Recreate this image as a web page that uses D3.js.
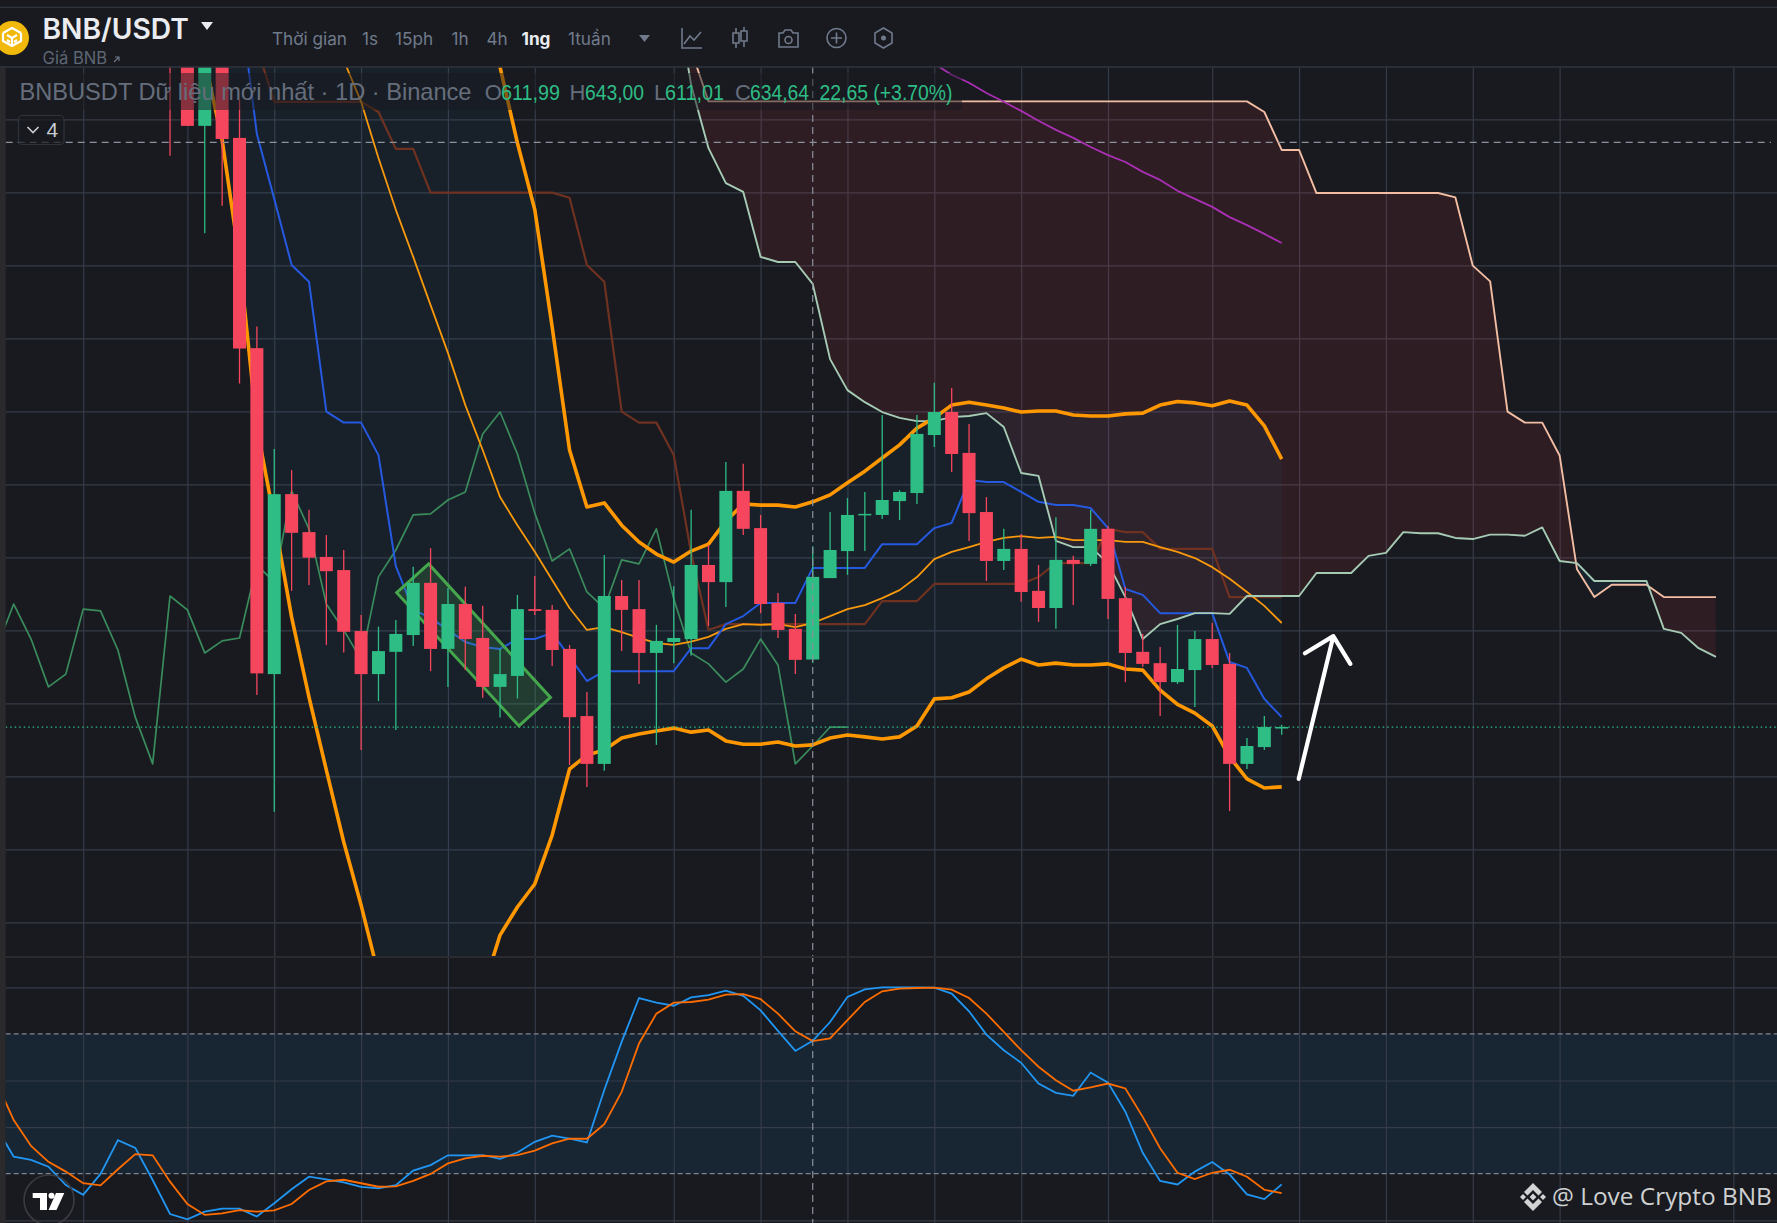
<!DOCTYPE html>
<html>
<head>
<meta charset="utf-8">
<title>BNB/USDT</title>
<script src="https://cdn.jsdelivr.net/npm/d3@7"></script>
<style>
  html, body { margin: 0; padding: 0; background: #181a20; overflow: hidden; }
  text { font-family: "Liberation Sans", Arial, sans-serif; }
</style>
</head>
<body>
<div id="viz"></div>
<script>
// candles, the first one is bar -1
var firstBar = -1;
var opens = [800,790,758.2,785,754.9,697.3,608,657.3,646.9,640.1,636.5,619.8,608,614.1,618.7,633,614.9,627.2,617.9,604.5,607.5,625.8,625.6,614.9,596.5,583.4,629.4,625.8,613.8,616.8,617.6,637.9,633.2,658.2,648,627.5,620.4,611.99,634.3,641.7,651.6,651.6,655.4,657.6,673.5,679.8,668.6,652.4,639,642.3,630.8,626.1,639.3,638.2,647.8,628.8,614.1,611,605.8,609.1,617.6,610.8,583.4,588,593.2];
var highs = [810,800,795,790,765.3,703.2,669.7,663.9,653,646.1,642,624.2,621,622.8,637.4,642.5,631.6,631.9,626.7,614.9,629.7,634.9,626.9,616,603.1,640.6,633.8,633.8,621.5,632.1,653,643.4,666.1,665.6,651.6,630.2,624.5,643,652.4,656.2,657.9,679,658.4,679,687.8,686.4,676.5,656.5,647.8,646.4,637.9,651,640.4,653,648.6,631.9,619,615.4,621.5,619.8,622,613.8,590.5,596.5,594.1];
var lows = [750,758.2,728.8,736.3,687.6,602.3,570.3,630.8,632.4,616,613.9,587.2,600.6,592.7,615.7,608.8,604.5,609.1,601.5,596.1,601.3,624.2,610.2,583.1,577.1,581.5,614.3,605.3,588.6,611,613,621.2,626.4,646.1,624.7,617.9,608,611.01,634.3,635.2,641.7,650.5,650.2,654.6,670.2,663.4,644.5,633.5,636.5,627.8,622.3,620.4,626.9,637.6,623.1,605.8,610,596.5,605.3,599,609.7,570.5,582,587.2,591.4];
var closes = [785,758.2,790,754.6,697.2,608.2,657.3,646.7,639.9,636.2,619.6,608,614.3,619,633,614.9,627.2,617.6,604.5,608,625.8,625.3,614.6,596.2,583.4,629.4,625.6,613.8,617.1,617.9,637.9,633.2,658.2,647.8,627.2,620.1,611.9,634.64,642,651.6,651.9,655.7,657.9,673.8,679.8,668.3,652.1,639,642.3,630.5,626.1,639.3,638.2,647.8,628.6,613.8,610.8,605.8,609.4,617.6,610.5,583.4,588.3,593.5,593.5];

// ichimoku lines
var tenkanStart = 3;
var tenkan = [793.2,756,738.2,720.1,715.5,679.9,676.9,676.9,668,637.6,625.6,623.4,620.1,616.8,615.4,614.9,617.6,617.6,619.3,612.7,606.1,608.8,608.8,608.8,608.8,608.8,615.1,615.1,621.7,623.9,627.5,627.5,627.5,637.1,637.1,637.1,637.1,643.6,643.6,643.6,648,649.4,661.2,660.6,660.6,657.9,655.2,654.3,654.3,653.5,648,631.3,629.7,624.7,624.7,624.7,624.7,611.3,609.7,601.2,596.2];
var kijunStart = 4;
var kijun = [779.8,764.8,764.8,764.8,764.8,764.8,764.8,762,751.9,751.9,739.9,739.9,739.9,739.9,739.9,739.9,739.9,739.9,738.5,720.1,715.5,679.9,676.9,676.9,668,641.2,620.1,621.7,621.7,621.7,621.7,621.7,621.7,621.7,621.7,621.7,628,628,628,632.7,632.7,632.7,632.7,632.7,632.7,634.6,638.4,638.4,638.4,647.8,646.9,646.9,642.3,642.3,642.3,642.3,629.1,629.1,629.1,629.1];
var chikouStart = -11;
var chikou = [614.9,627.2,617.6,604.5,608,625.8,625.3,614.6,596.2,583.4,629.4,625.6,613.8,617.1,617.9,637.9,633.2,658.2,647.8,627.2,620.1,611.9,634.64,642,651.6,651.9,655.7,657.9,673.8,679.8,668.3,652.1,639,642.3,630.5,626.1,639.3,638.2,647.8,628.6,613.8,610.8,605.8,609.4,617.6,610.5,583.4,588.3,593.5,593.5];
var spanStart = 28;
var spanA = [798.2,769.4,752.1,742.5,740.1,722.3,720.9,720.9,714.9,694.3,685.8,682.5,679.8,678.2,677.3,677.3,678.4,678.7,679.5,675.7,663.1,662.3,644.5,642.8,642.8,638.4,629.1,617.6,621.7,623.1,624.7,624.7,624.5,629.4,629.4,629.4,629.4,635.7,635.7,635.7,640.4,641.2,646.9,646.6,646.6,645.3,645,646.2,646.2,645.9,648.2,639,638.4,633.5,633.5,633.5,633.5,620.4,619.3,615.1,612.7];
var spanB = [820.1,779,764.9,764.9,764.9,764.9,764.9,764.9,764.9,764.9,764.9,764.9,764.9,764.9,764.9,764.9,764.9,764.9,764.9,764.9,764.9,764.9,764.9,764.9,764.9,764.9,764.9,764.9,764.9,764.9,764.9,764.9,764.9,764.9,762,751.6,751.6,739.8,739.8,739.8,739.8,739.8,739.8,739.8,739.8,738.6,719.9,715.6,679.9,676.9,676.9,667.9,636.7,629.1,632.5,632.5,632.5,629.1,629.1,629.1,629.1];

// bollinger bands, bar 0 to 63
var bandUpper = [900,900,900,900,900,900,900,900,900,900,900,900,900,900,900,880,850,810,774.3,753.5,735.2,703.1,669.4,653.8,654.9,648.8,644.2,640.9,638.7,641.7,643.6,649.9,654.6,654.3,654.3,653.8,655.2,657.1,660.4,663.6,667.2,670.8,675.4,678.2,681.7,682.5,681.7,680.9,679.8,680.1,680.1,679,678.7,678.7,679.3,679.5,681.7,682.7,682.3,681.5,682.8,681.7,676,666.9];
var bandLower = [803.6,776.2,754.3,721.5,675.7,650.5,623.6,601.7,581.7,562,544.7,525.6,507.7,494,485.8,485.8,494,521.4,536.5,544.2,550.5,563.9,582,585.8,587.2,590.5,591.6,592.4,593.2,592.1,592.7,589.7,588.8,588.8,589.4,588.3,588.6,590.5,591.3,590.8,590.2,590.8,593.8,601.2,601.5,603.1,606.7,609.7,612.1,610.5,611,610.5,610.5,610.8,609.4,609.1,603.6,599.7,597.3,593.8,585.3,579.3,576.8,577.1];
var bandMidStart = 8;
var bandMid = [790,776.2,764.8,749.4,735.2,722.3,709.1,696,681.7,669.4,656.5,648.8,641.5,633.8,626.1,620.1,620.9,619.5,617.9,616.5,616,616.9,618.2,620.4,621.7,621.5,621.7,620.9,622,623.9,625.8,626.9,628.8,631,634.6,639.5,641.5,642.8,644.2,645.3,645.8,645.3,645.6,644.7,644.7,644.7,644.2,644.2,642.8,641.5,639.8,637.3,634.1,630.5,626.7,622];

// long moving average
var longMaStart = 42;
var longMa = [777.6,775.2,772.2,770,767.2,764.8,762.3,759.6,757.1,754.9,752.4,750.2,748.3,745.6,743.4,740.4,738.2,736,733.2,731,728.6,726.1];

// stochastic RSI, starts at bar -11
var stochStart = -11;
var stochK = [40,27.3,25.9,23,15.1,10.9,19.9,34.4,31.1,17.3,2.7,0.4,3.7,5,5,1.6,7.3,13.3,18.7,17.6,16.3,14.3,13.7,15.1,21.3,23.7,27.9,27.9,28,26.4,29.1,33.7,36.3,35.1,33.4,55.9,76.6,95.4,93.4,92.1,95.7,96.6,98.6,96.3,90.1,81.3,72.7,77,85.1,95.9,99.1,100,100,100,99.9,97.3,89.7,79.7,73,67.6,58.7,54.7,53.4,63.4,59.1,46.6,29,16.9,15.4,20.9,25,19.7,11.1,9.1,15.4];
var stochD = [59.4,43,31.9,25.1,20.9,15.9,15,21.9,28.4,27.9,16.6,7,2.3,3,4.4,3.7,4.3,7,13,16.7,17.4,15.9,14.4,14.6,16.9,19.9,24.4,26.6,27.7,27.3,28,29.9,33,35,35,41.3,55.1,75.9,88.7,93.4,93.7,94.7,96.9,97.1,94.9,88.7,81.1,76.9,78.1,85.9,93.7,98.3,99.4,99.7,99.9,99,95.4,88.7,80.9,73,65.9,60.1,55.6,57,58.7,56.6,44.4,30.9,20.4,17.7,20.4,21.7,18.7,13.1,11.7];

// axis ticks
var barTicks = [-6,0,5,10,15,20,28,33,38,43,48,53,59,64,69,74,79,89];
var priceTicks = [760,740,720,700,680,660,640,620,600,580,560,540];
var stochTicks = [100,60,40,0];
var stochGuides = [80,20];
var crossBar = 36;
var crossPrice = 753.7;
var lastPrice = 593.5;

// drawings on the chart
var boxBars = [12.05,13.89,20.9,19.09];
var boxPrices = [630.3,638.2,601.6,593.8];
var arrowBars = [63.98,65.97,64.34,66.95];
var arrowPrices = [579.3,618.4,613.7,610.8];

// header
var menuLabels = ['Thời gian','1s','15ph','1h','4h','1ng','1tuần'];
var menuX = [272,362,395,451.5,486.5,521.5,568];

var width = 1777, height = 1223;
var plotLeft = 5.7, plotTop = 67, plotBottom = 957, stochTop = 958;

var xScale = d3.scaleLinear().domain([0,10]).range([187.4,361.1]);
var yPrice = d3.scaleLinear().domain([640,620]).range([557.3,630.3]);
var yStoch = d3.scaleLinear().domain([0,100]).range([1220.3,987.3]);

var svg = d3.select('#viz').append('svg')
    .attr('width', width)
    .attr('height', height)
    .style('display','block');

var defs = svg.append('defs');
defs.append('clipPath').attr('id','plotClip').append('rect')
    .attr('x',plotLeft).attr('y',plotTop)
    .attr('width',width-plotLeft).attr('height',plotBottom-plotTop);
defs.append('clipPath').attr('id','stochClip').append('rect')
    .attr('x',plotLeft).attr('y',stochTop)
    .attr('width',width-plotLeft).attr('height',height-stochTop);

svg.append('rect').attr('width',width).attr('height',height).attr('fill','#181a20');
svg.append('rect').attr('x',0).attr('y',plotTop).attr('width',plotLeft).attr('height',height-plotTop).attr('fill','#2a2a2c');

var gridColor = '#353b47';

// helpers
function series(start, values) {
  return values.map(function(v, i) { return {bar: start + i, value: v}; });
}
var priceLine = d3.line()
    .x(function(d) { return xScale(d.bar); })
    .y(function(d) { return yPrice(d.value); });
var stochLine = d3.line()
    .x(function(d) { return xScale(d.bar); })
    .y(function(d) { return yStoch(d.value); });

function styleGrid(g) {
  g.select('.domain').remove();
  g.selectAll('text').remove();
  g.selectAll('line').attr('stroke',gridColor).attr('stroke-width',1.2);
}

// price pane
var plot = svg.append('g').attr('clip-path','url(#plotClip)');

plot.append('g')
    .attr('transform','translate(0,'+plotBottom+')')
    .call(d3.axisBottom(xScale).tickValues(barTicks).tickSize(-(plotBottom-plotTop)).tickFormat(''))
    .call(styleGrid);
plot.append('g')
    .attr('transform','translate('+width+',0)')
    .call(d3.axisLeft(yPrice).tickValues(priceTicks).tickSize(width).tickFormat(''))
    .call(styleGrid);

// cloud
var spanRows = spanA.map(function(a, i) { return {bar: spanStart + i, a: a, b: spanB[i]}; });
var belowA = d3.area()
    .x(function(d) { return xScale(d.bar); })
    .y0(function(d) { return yPrice(d.a); })
    .y1(height);
var belowB = d3.area()
    .x(function(d) { return xScale(d.bar); })
    .y0(function(d) { return yPrice(d.b); })
    .y1(height);
var cloudArea = d3.area()
    .x(function(d) { return xScale(d.bar); })
    .y0(function(d) { return yPrice(d.a); })
    .y1(function(d) { return yPrice(d.b); });
defs.append('clipPath').attr('id','belowA').append('path').attr('d',belowA(spanRows));
defs.append('clipPath').attr('id','belowB').append('path').attr('d',belowB(spanRows));
plot.append('path').attr('d',cloudArea(spanRows)).attr('fill','rgba(242,54,69,0.10)').attr('clip-path','url(#belowB)');
plot.append('path').attr('d',cloudArea(spanRows)).attr('fill','rgba(33,150,243,0.07)').attr('clip-path','url(#belowA)');

// band fill
var bandRows = bandUpper.map(function(u, i) { return {bar: i, up: u, low: bandLower[i]}; });
plot.append('path')
    .attr('d',d3.area()
      .x(function(d) { return xScale(d.bar); })
      .y0(function(d) { return yPrice(d.up); })
      .y1(function(d) { return yPrice(d.low); })(bandRows))
    .attr('fill','rgba(33,150,243,0.05)');

// indicator lines
function addLine(start, values, color, w) {
  plot.append('path')
      .attr('d',priceLine(series(start, values)))
      .attr('fill','none')
      .attr('stroke',color)
      .attr('stroke-width',w)
      .attr('stroke-linejoin','round');
}
addLine(kijunStart, kijun, '#6f3120', 2.2);
addLine(chikouStart, chikou, '#3a8c5c', 1.7);
addLine(bandMidStart, bandMid, '#f7980d', 1.8);
addLine(tenkanStart, tenkan, '#2559e0', 2);
addLine(spanStart, spanB, '#f2bda2', 1.9);
addLine(spanStart, spanA, '#a6cbb5', 1.9);
addLine(longMaStart, longMa, '#a92fb4', 1.8);
addLine(0, bandUpper, '#ff9800', 3.6);
addLine(0, bandLower, '#ff9800', 3.6);

// horizontal guides
plot.append('line')
    .attr('x1',plotLeft).attr('x2',1771)
    .attr('y1',yPrice(crossPrice)).attr('y2',yPrice(crossPrice))
    .attr('stroke','#8b929e').attr('stroke-width',1.2).attr('stroke-dasharray','7 5');
plot.append('line')
    .attr('x1',plotLeft).attr('x2',width)
    .attr('y1',yPrice(lastPrice)).attr('y2',yPrice(lastPrice))
    .attr('stroke','#2ebd85').attr('stroke-width',1.2).attr('stroke-dasharray','1.5 3');

// green box under the candles
var boxPoints = boxBars.map(function(b, i) { return [xScale(b), yPrice(boxPrices[i])]; });
plot.append('polygon')
    .attr('points',boxPoints.join(' '))
    .attr('fill','rgba(76,175,80,0.2)')
    .attr('stroke','#46a64c')
    .attr('stroke-width',3);

// candles
var bars = opens.map(function(o, i) {
  return {bar: firstBar + i, open: o, high: highs[i], low: lows[i], close: closes[i]};
});
var candleG = plot.selectAll('g.candle').data(bars).enter().append('g').attr('class','candle');
function candleColor(d) { return d.close >= d.open ? '#2ebd85' : '#f6465d'; }
candleG.append('line')
    .attr('x1',function(d) { return xScale(d.bar); })
    .attr('x2',function(d) { return xScale(d.bar); })
    .attr('y1',function(d) { return yPrice(d.high); })
    .attr('y2',function(d) { return yPrice(d.low); })
    .attr('stroke',candleColor)
    .attr('stroke-width',1.3);
candleG.append('rect')
    .attr('x',function(d) { return xScale(d.bar) - 6.5; })
    .attr('width',13)
    .attr('y',function(d) { return Math.min(yPrice(d.open), yPrice(d.close)); })
    .attr('height',function(d) { return Math.max(1.5, Math.abs(yPrice(d.open) - yPrice(d.close))); })
    .attr('fill',candleColor);

// white arrow
var arrowPt = arrowBars.map(function(b, i) { return [xScale(b), yPrice(arrowPrices[i])]; });
plot.append('path')
    .attr('d',d3.line()([arrowPt[0],arrowPt[1]]) + d3.line()([arrowPt[2],arrowPt[1],arrowPt[3]]))
    .attr('fill','none')
    .attr('stroke','#fff')
    .attr('stroke-width',4.2)
    .attr('stroke-linecap','round')
    .attr('stroke-linejoin','round');

// stoch pane
var lower = svg.append('g').attr('clip-path','url(#stochClip)');
lower.append('rect')
    .attr('x',plotLeft).attr('width',width-plotLeft)
    .attr('y',yStoch(80)).attr('height',yStoch(20)-yStoch(80))
    .attr('fill','rgba(33,150,243,0.09)');
lower.append('g')
    .attr('transform','translate(0,'+height+')')
    .call(d3.axisBottom(xScale).tickValues(barTicks).tickSize(-(height-stochTop)).tickFormat(''))
    .call(styleGrid);
lower.append('g')
    .attr('transform','translate('+width+',0)')
    .call(d3.axisLeft(yStoch).tickValues(stochTicks).tickSize(width).tickFormat(''))
    .call(styleGrid);
lower.selectAll('line.guide').data(stochGuides).enter().append('line')
    .attr('class','guide')
    .attr('x1',plotLeft).attr('x2',width)
    .attr('y1',function(d) { return yStoch(d); })
    .attr('y2',function(d) { return yStoch(d); })
    .attr('stroke','#7d8592').attr('stroke-width',1.2).attr('stroke-dasharray','5 3');
lower.append('path')
    .attr('d',stochLine(series(stochStart, stochK)))
    .attr('fill','none').attr('stroke','#2196f3').attr('stroke-width',1.8);
lower.append('path')
    .attr('d',stochLine(series(stochStart, stochD)))
    .attr('fill','none').attr('stroke','#ff6d00').attr('stroke-width',1.8);

// crosshair and pane separators
svg.append('line')
    .attr('x1',xScale(crossBar)).attr('x2',xScale(crossBar))
    .attr('y1',plotTop).attr('y2',height)
    .attr('stroke','#8b929e').attr('stroke-width',1.2).attr('stroke-dasharray','7 5');
svg.append('line').attr('x1',plotLeft).attr('x2',width).attr('y1',957).attr('y2',957).attr('stroke','#2a2b2e').attr('stroke-width',2);

// header
var head = svg.append('g');
head.append('rect').attr('width',width).attr('height',plotTop).attr('fill','#181a20');
head.append('line').attr('x1',0).attr('x2',width).attr('y1',7.3).attr('y2',7.3).attr('stroke','#2f343c').attr('stroke-width',1.2);
head.append('line').attr('x1',0).attr('x2',width).attr('y1',67).attr('y2',67).attr('stroke','#2f343c').attr('stroke-width',1.4);

head.append('circle').attr('cx',12).attr('cy',38).attr('r',17).attr('fill','#f0b90b');
head.append('path')
    .attr('d','M3 33 L12 28 L21 33 M3 33 L3 41 L12 46 L21 41 L21 33 M7 35 L12 38 L17 35 M12 38 L12 46 M7 40 L10 42 M17 40 L14 42')
    .attr('fill','none').attr('stroke','#fff').attr('stroke-width',2.2).attr('stroke-linejoin','round');

head.append('text').attr('x',42.5).attr('y',39.3)
    .style('font-family','Inter').style('font-weight',600).style('font-size','28.2px')
    .attr('fill','#eaecef').text('BNB/USDT');
head.append('path').attr('d','M201 22 L213 22 L207 30 Z').attr('fill','#eaecef');
head.append('text').attr('x',42.5).attr('y',63.5)
    .style('font-family','Inter').style('font-size','16.6px')
    .attr('fill','#5e6673').text('Giá BNB');
head.append('path').attr('d','M114 62 L119 57 M115 57 L119 57 L119 61').attr('fill','none').attr('stroke','#707a8a').attr('stroke-width',1.1);

head.selectAll('text.menu').data(menuLabels).enter().append('text')
    .attr('class','menu')
    .attr('x',function(d, i) { return menuX[i]; })
    .attr('y',44.5)
    .style('font-family','Inter')
    .style('font-size','17.2px')
    .style('font-weight',function(d) { return d === '1ng' ? 700 : 400; })
    .attr('fill',function(d) { return d === '1ng' ? '#eaecef' : '#707a8a'; })
    .text(function(d) { return d; });
head.append('path').attr('d','M639 35 L650 35 L644.5 42 Z').attr('fill','#707a8a');

// toolbar icons
var iconStroke = '#707a8a';
function icon(d) {
  head.append('path').attr('d',d).attr('fill','none').attr('stroke',iconStroke).attr('stroke-width',1.6);
}
icon('M682 28 L682 48 L702 48 M684 44 L690 36 L694 40 L701 32');
icon('M733 33 H739 V43 H733 Z M741 31 H747 V41 H741 Z M736 28 V33 M736 43 V48 M744 27 V31 M744 41 V47');
icon('M779 33 H783 L785 30 H791 L793 33 H798 V47 H779 Z');
head.append('circle').attr('cx',788.5).attr('cy',40).attr('r',3.5).attr('fill','none').attr('stroke',iconStroke).attr('stroke-width',1.6);
head.append('circle').attr('cx',836.5).attr('cy',38).attr('r',9.5).attr('fill','none').attr('stroke',iconStroke).attr('stroke-width',1.6);
icon('M831 38 H842 M836.5 32.5 V43.5');
icon('M883.5 28 L892 33 L892 43 L883.5 48 L875 43 L875 33 Z');
head.append('circle').attr('cx',883.5).attr('cy',38).attr('r',2.5).attr('fill',iconStroke);

// legend strip
svg.append('rect').attr('x',19).attr('y',73).attr('width',943).attr('height',37).attr('fill','rgba(24,26,32,0.5)');
var legendGrey = '#666e7c', legendGreen = '#2ebd85';
function legendText(x, label, color, size, fit) {
  var t = svg.append('text').attr('x',x).attr('y',99.6).attr('fill',color).style('font-size',size+'px').text(label);
  if (fit) t.attr('textLength',fit).attr('lengthAdjust','spacingAndGlyphs');
}
legendText(19.5,'BNBUSDT Dữ liệu mới nhất · 1D · Binance',legendGrey,23.6,452);
legendText(484.7,'O',legendGrey,22);
legendText(501,'611,99',legendGreen,22,59);
legendText(569.5,'H',legendGrey,22);
legendText(585,'643,00',legendGreen,22,59);
legendText(654,'L',legendGrey,22);
legendText(665,'611,01',legendGreen,22,59);
legendText(735,'C',legendGrey,22);
legendText(750,'634,64',legendGreen,22,59);
legendText(819.5,'22,65 (+3.70%)',legendGreen,22,133);

// collapsed indicator box
svg.append('rect').attr('x',18.5).attr('y',115.5).attr('width',45.5).attr('height',29).attr('rx',4)
    .attr('fill','#181a20').attr('fill-opacity',0.7).attr('stroke','#2f343c').attr('stroke-width',1.2);
svg.append('path').attr('d','M27.5 127 L33 132.5 L38.5 127').attr('fill','none').attr('stroke','#c8ccd2').attr('stroke-width',1.6);
svg.append('text').attr('x',46.5).attr('y',137).attr('fill','#c8ccd2').style('font-size','21px').text('4');

// tradingview badge
svg.append('circle').attr('cx',49).attr('cy',1200).attr('r',25).attr('fill','none').attr('stroke','#3b3b41').attr('stroke-width',1.6);
svg.append('path').attr('d','M32.7 1193 H47 V1210 H40 V1198 H32.7 Z M56 1193 H64.3 L56.5 1210 H48.5 Z').attr('fill','#fff');
svg.append('circle').attr('cx',51.5).attr('cy',1195.8).attr('r',3).attr('fill','#fff');

// watermark
var mark = svg.append('g').attr('transform','translate(1533,1197)').attr('fill','#d2d4d4');
mark.append('path').attr('d','M0 -14 L9 -5 L5.5 -1.5 L0 -7 L-5.5 -1.5 L-9 -5 Z');
mark.append('path').attr('d','M0 14 L9 5 L5.5 1.5 L0 7 L-5.5 1.5 L-9 5 Z');
mark.append('path').attr('d','M0 -3.4 L3.4 0 L0 3.4 L-3.4 0 Z');
mark.append('path').attr('d','M-10 -3 L-7 0 L-10 3 L-13 0 Z');
mark.append('path').attr('d','M10 -3 L13 0 L10 3 L7 0 Z');
svg.append('text').attr('x',1552).attr('y',1205)
    .style('font-family','"Open Sans"').style('font-size','24.4px')
    .attr('fill','#cfd1d1').text('@ Love Crypto BNB');
</script>
</body>
</html>
